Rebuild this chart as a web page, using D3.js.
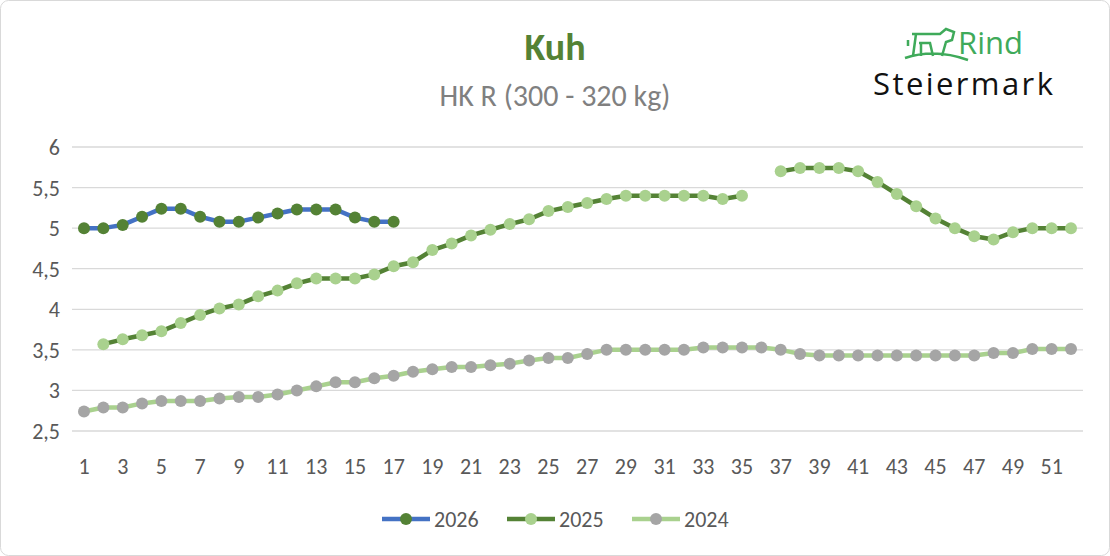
<!DOCTYPE html>
<html><head><meta charset="utf-8">
<script src="https://cdn.jsdelivr.net/npm/d3@7"></script>
<style>body{margin:0;background:#fff;font-family:Calibri,Carlito,"Open Sans",sans-serif}</style>
</head><body><svg id="c" width="1110" height="556"></svg>
<script>
const weeks = d3.range(1, 53);
const yTicks = [2.5, 3, 3.5, 4, 4.5, 5, 5.5, 6];
const v2026 = [5.0,5.0,5.04,5.14,5.24,5.24,5.14,5.08,5.08,5.13,5.18,5.23,5.23,5.23,5.13,5.08,5.08];
const v2025 = [null,3.57,3.63,3.68,3.73,3.83,3.93,4.01,4.06,4.16,4.23,4.32,4.38,4.38,4.38,4.43,4.53,4.58,4.73,4.81,4.91,4.98,5.05,5.11,5.21,5.26,5.31,5.36,5.40,5.40,5.40,5.40,5.40,5.36,5.40,null,5.70,5.74,5.74,5.74,5.70,5.57,5.42,5.27,5.12,5.00,4.90,4.86,4.95,5.00,5.00,5.00];
const v2024 = [2.74,2.79,2.79,2.84,2.87,2.87,2.87,2.90,2.92,2.92,2.95,3.00,3.05,3.10,3.10,3.15,3.18,3.23,3.26,3.29,3.29,3.31,3.33,3.37,3.40,3.40,3.45,3.50,3.50,3.50,3.50,3.50,3.53,3.53,3.53,3.53,3.50,3.45,3.43,3.43,3.43,3.43,3.43,3.43,3.43,3.43,3.43,3.46,3.46,3.51,3.51,3.51];

const series = [
  { name: "2026", values: v2026, line: "#4472C4", dot: "#548235" },
  { name: "2025", values: v2025, line: "#548235", dot: "#A9D18E" },
  { name: "2024", values: v2024, line: "#A9D18E", dot: "#A5A5A5" },
];

const svg = d3.select("#c");
svg.append("rect").attr("x", 0.5).attr("y", 0.5).attr("width", 1109).attr("height", 555)
  .attr("rx", 8).attr("fill", "#fff").attr("stroke", "#d9d9d9");

const x = d3.scaleLinear().domain([1, 52]).range([84, 1071]);
const y = d3.scaleLinear().domain([2.5, 6]).range([431, 147]);

svg.append("g").selectAll("line").data(yTicks).join("line")
  .attr("x1", 72).attr("x2", 1083).attr("y1", d => y(d)).attr("y2", d => y(d))
  .attr("stroke", "#d9d9d9").attr("stroke-width", 1.3);

svg.append("g").selectAll("text").data(yTicks).join("text")
  .attr("x", 60).attr("y", d => y(d) + 8).attr("text-anchor", "end")
  .attr("font-size", 22).attr("fill", "#595959")
  .text(d => d3.format("")(d).replace(".", ","));

svg.append("g").selectAll("text").data(weeks.filter(w => w % 2 === 1)).join("text")
  .attr("x", d => x(d)).attr("y", 474).attr("text-anchor", "middle")
  .attr("font-size", 22).attr("fill", "#595959").text(d => d);

const line = d3.line().defined(d => d[1] != null).x(d => x(d[0])).y(d => y(d[1]));

series.slice().reverse().forEach(s => {
  const pts = s.values.map((v, i) => [i + 1, v]);
  svg.append("path").datum(pts).attr("d", line).attr("fill", "none")
    .attr("stroke", s.line).attr("stroke-width", 4.5).attr("stroke-linejoin", "round");
  svg.append("g").selectAll("circle").data(pts.filter(d => d[1] != null)).join("circle")
    .attr("cx", d => x(d[0])).attr("cy", d => y(d[1])).attr("r", 6).attr("fill", s.dot);
});

// title
svg.append("text").attr("x", 555).attr("y", 60).attr("text-anchor", "middle")
  .attr("font-size", 38).attr("font-weight", "bold").attr("fill", "#548235").text("Kuh");
svg.append("text").attr("x", 555).attr("y", 106).attr("text-anchor", "middle")
  .attr("font-size", 30).attr("fill", "#808080").text("HK R (300 - 320 kg)");

// legend
const lg = svg.append("g").selectAll("g").data(series).join("g")
  .attr("transform", (d, i) => `translate(${382 + i * 125},519)`);
lg.append("line").attr("x1", 0).attr("x2", 48).attr("stroke", d => d.line).attr("stroke-width", 4.5);
lg.append("circle").attr("cx", 24).attr("r", 6).attr("fill", d => d.dot);
lg.append("text").attr("x", 52).attr("y", 8).attr("font-size", 22).attr("fill", "#595959").text(d => d.name);

// logo
const logo = svg.append("g");
logo.append("path").attr("d", "M905 58 Q935 48 968 60 M912 34 L940 34 L946 29 L954 32 L952 40 L946 42 L942 56 M916 34 L913 56 M908 40 L908 46 M919 43 L930 43 L933 56 M921 43 L921 56")
  .attr("fill", "none").attr("stroke", "#3FAA5A").attr("stroke-width", 2.5);
logo.append("text").attr("x", 958).attr("y", 54).attr("font-size", 31).attr("fill", "#3FAA5A")
  .attr("font-family", "'Open Sans',sans-serif").text("Rind");
logo.append("text").attr("x", 873).attr("y", 95).attr("font-size", 31).attr("fill", "#111")
  .attr("font-family", "'Open Sans',sans-serif").attr("textLength", 180).text("Steiermark");
</script></body></html>
